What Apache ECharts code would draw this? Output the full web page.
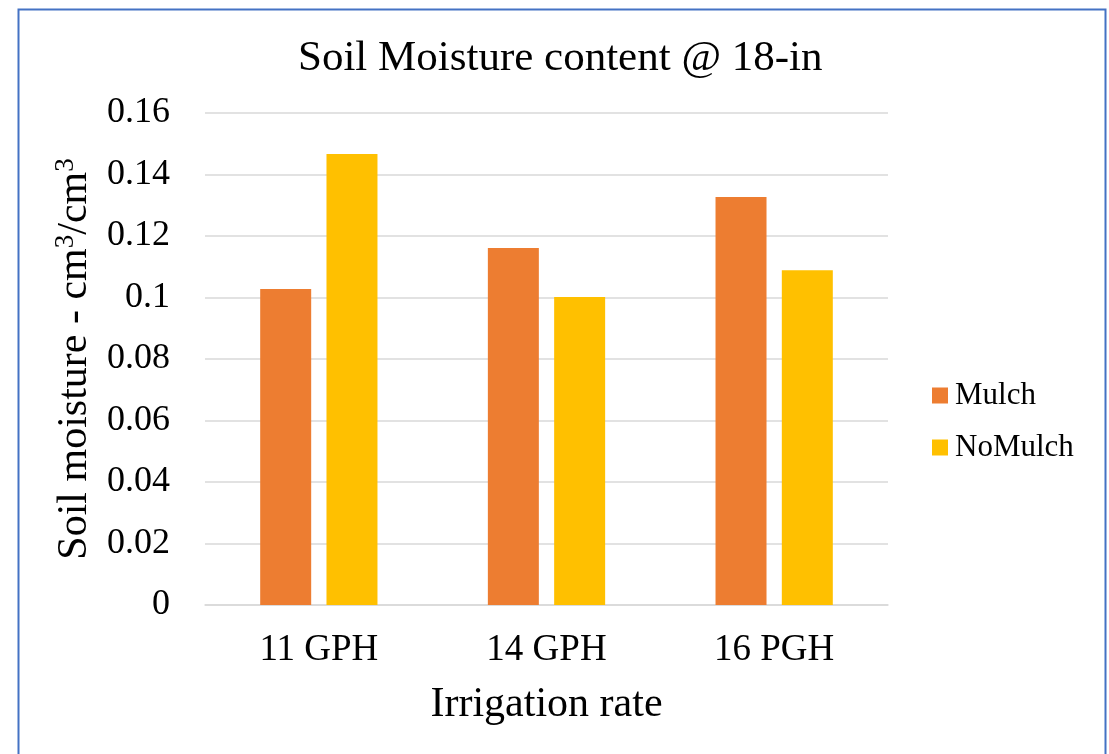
<!DOCTYPE html>
<html>
<head>
<meta charset="utf-8">
<script src="https://cdn.jsdelivr.net/npm/echarts@6/dist/echarts.min.js"></script>
<style>
html,body{margin:0;padding:0;background:#fff;}
#chart{width:1109px;height:754px;}
</style>
</head>
<body>
<div id="chart"></div>
<script>
const categories = ['11 GPH', '14 GPH', '16 PGH'];
const mulch = [0.1028, 0.1161, 0.1327];
const noMulch = [0.1467, 0.1002, 0.1089];
const yTicks = [0, 0.02, 0.04, 0.06, 0.08, 0.1, 0.12, 0.14, 0.16];

const FONT = '"Liberation Serif", "Times New Roman", serif';
const chart = echarts.init(document.getElementById('chart'));
chart.setOption({
  animation: false,
  backgroundColor: '#fff',
  textStyle: { fontFamily: FONT, color: '#000' },
  graphic: [{
    type: 'rect', left: 16, top: 7, silent: true,
    shape: { x: 0, y: 0, width: 1087, height: 800 },
    style: { fill: 'none', stroke: '#4472C4', lineWidth: 2 }
  }],
  title: {
    text: 'Soil Moisture content @ 18-in',
    left: 293, top: 32,
    textStyle: { fontFamily: FONT, fontSize: 43, fontWeight: 'normal', color: '#000' }
  },
  legend: {
    orient: 'vertical', left: 927, top: 375,
    data: ['Mulch', 'NoMulch'],
    icon: 'rect', itemWidth: 16, itemHeight: 16, itemGap: 21,
    textStyle: { fontFamily: FONT, fontSize: 31, lineHeight: 31, color: '#000', padding: [0, 0, 0, 2] }
  },
  grid: { left: 205, right: 221, top: 113, bottom: 149, containLabel: false },
  xAxis: {
    type: 'category', data: categories,
    name: 'Irrigation rate', nameLocation: 'middle', nameGap: 79,
    nameTextStyle: { fontFamily: FONT, fontSize: 42, color: '#000' },
    axisLine: { lineStyle: { color: '#d9d9d9', width: 1.5 } },
    axisTick: { show: false },
    axisLabel: { fontFamily: FONT, fontSize: 37, color: '#000', margin: 27 }
  },
  yAxis: {
    type: 'value', min: 0, max: 0.16, interval: 0.02,
    name: '{a|Soil moisture - cm}{s|3}{a|/cm}{s|3}', nameLocation: 'middle', nameGap: 100,
    nameTextStyle: {
      fontFamily: FONT, fontSize: 42, color: '#000',
      rich: {
        a: { fontFamily: FONT, fontSize: 42, color: '#000', lineHeight: 46 },
        s: { fontFamily: FONT, fontSize: 27, color: '#000', verticalAlign: 'top', lineHeight: 46 }
      }
    },
    axisLine: { show: false }, axisTick: { show: false },
    splitLine: { lineStyle: { color: '#d9d9d9', width: 1.5 } },
    axisLabel: {
      fontFamily: FONT, fontSize: 36, color: '#000', margin: 35,
      formatter: v => { const t = yTicks.find(x => Math.abs(x - v) < 1e-9); return String(+(t ?? v).toFixed(2)); }
    }
  },
  series: [
    { name: 'Mulch', type: 'bar', data: mulch, barWidth: '22.4%', barGap: '30%',
      itemStyle: { color: '#ED7D31' } },
    { name: 'NoMulch', type: 'bar', data: noMulch, barWidth: '22.4%',
      itemStyle: { color: '#FFC000' } }
  ]
});
</script>
</body>
</html>
